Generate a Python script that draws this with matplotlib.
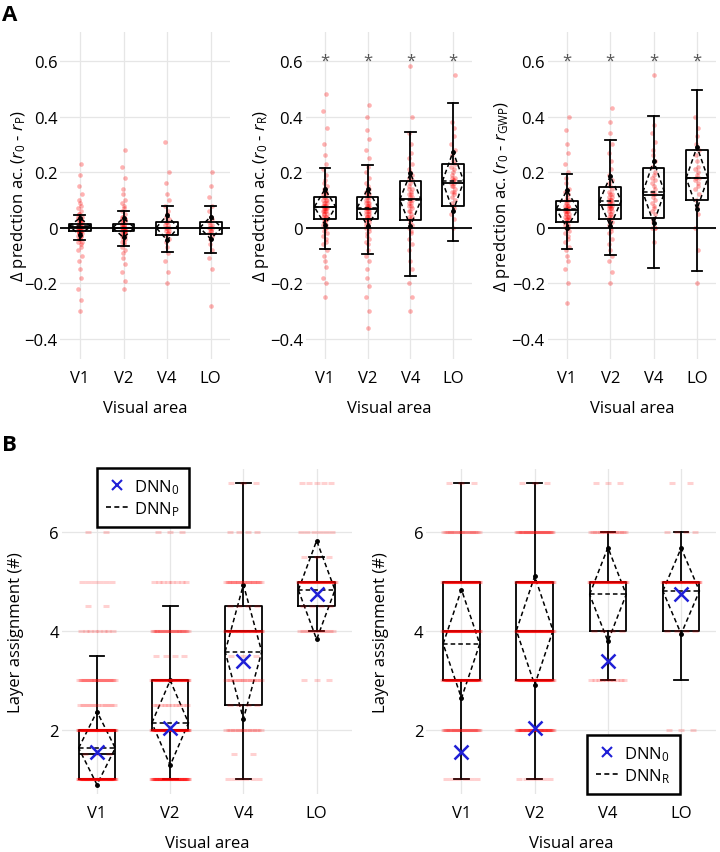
import matplotlib
matplotlib.use("Agg")
import matplotlib.pyplot as plt
import numpy as np
from matplotlib.lines import Line2D

plt.rcParams["font.family"] = ["Open Sans", "DejaVu Sans"]
plt.rcParams["mathtext.fontset"] = "custom"
plt.rcParams["mathtext.rm"] = "Open Sans"
plt.rcParams["mathtext.it"] = "Open Sans:italic"

areas = ["V1", "V2", "V4", "LO"]

# ---- Panel A: difference in prediction accuracy ----
a_ylabels = [r"$\Delta$ predction ac. ($r_0$ - $r_\mathrm{P}$)",
             r"$\Delta$ predction ac. ($r_0$ - $r_\mathrm{R}$)",
             r"$\Delta$ predction ac. ($r_0$ - $r_\mathrm{GWP}$)"]
a_signif = [False, True, True]

# box stats per panel: [V1, V2, V4, LO]
a_med = [[0.003, 0.0, 0.0, 0.0], [0.073, 0.067, 0.103, 0.161], [0.064, 0.082, 0.119, 0.179]]
a_q1 = [[-0.012, -0.012, -0.025, -0.022], [0.033, 0.033, 0.028, 0.079], [0.022, 0.033, 0.034, 0.100]]
a_q3 = [[0.015, 0.015, 0.020, 0.020], [0.109, 0.109, 0.167, 0.229], [0.095, 0.148, 0.215, 0.279]]
a_wlo = [[-0.043, -0.065, -0.088, -0.090], [-0.075, -0.093, -0.173, -0.046], [-0.076, -0.097, -0.143, -0.154]]
a_whi = [[0.045, 0.060, 0.080, 0.080], [0.215, 0.227, 0.343, 0.448], [0.194, 0.316, 0.402, 0.494]]
a_mean = [[0.005, 0.0, 0.0, 0.0], [0.075, 0.072, 0.101, 0.167], [0.067, 0.096, 0.128, 0.179]]
a_std = [[0.030, 0.035, 0.045, 0.040], [0.064, 0.067, 0.095, 0.107], [0.067, 0.090, 0.112, 0.112]]

# voxel values (estimated)
a_points = [
    [
        [-0.30, -0.26, -0.22, -0.18, -0.15, -0.12, -0.10, -0.08, -0.07, -0.06, -0.05, -0.05, -0.04,
         -0.04, -0.03, -0.03, -0.03, -0.02, -0.02, -0.02, -0.02, -0.01, -0.01, -0.01, -0.01, -0.01,
         0.0, 0.0, 0.0, 0.0, 0.0, 0.0, 0.01, 0.01, 0.01, 0.01, 0.01, 0.02, 0.02, 0.02, 0.02, 0.03,
         0.03, 0.03, 0.04, 0.04, 0.05, 0.05, 0.06, 0.07, 0.08, 0.09, 0.10, 0.12, 0.15, 0.19, 0.23],
        [-0.22, -0.19, -0.16, -0.13, -0.11, -0.09, -0.08, -0.07, -0.06, -0.05, -0.05, -0.04, -0.04,
         -0.03, -0.03, -0.03, -0.02, -0.02, -0.02, -0.01, -0.01, -0.01, -0.01, 0.0, 0.0, 0.0, 0.0,
         0.0, 0.01, 0.01, 0.01, 0.01, 0.02, 0.02, 0.02, 0.03, 0.03, 0.03, 0.04, 0.04, 0.05, 0.06,
         0.07, 0.08, 0.09, 0.10, 0.12, 0.14, 0.18, 0.22, 0.28],
        [-0.20, -0.16, -0.12, -0.09, -0.07, -0.05, -0.04, -0.03, -0.02, -0.02, -0.01, -0.01, 0.0,
         0.0, 0.0, 0.01, 0.01, 0.02, 0.02, 0.03, 0.04, 0.05, 0.06, 0.08, 0.10, 0.12, 0.16, 0.20,
         0.31],
        [-0.28, -0.15, -0.11, -0.08, -0.06, -0.04, -0.03, -0.02, -0.01, -0.01, 0.0, 0.0, 0.0, 0.01,
         0.01, 0.02, 0.03, 0.04, 0.06, 0.08, 0.11, 0.15, 0.20],
    ],
    [
        [-0.25, -0.20, -0.18, -0.14, -0.12, -0.10, -0.08, -0.06, -0.05, -0.04, -0.03, -0.02, -0.01,
         0.0, 0.0, 0.01, 0.01, 0.02, 0.02, 0.03, 0.03, 0.03, 0.04, 0.04, 0.04, 0.05, 0.05, 0.05,
         0.06, 0.06, 0.06, 0.06, 0.07, 0.07, 0.07, 0.07, 0.08, 0.08, 0.08, 0.08, 0.09, 0.09, 0.09,
         0.10, 0.10, 0.10, 0.11, 0.11, 0.12, 0.12, 0.13, 0.13, 0.14, 0.15, 0.16, 0.17, 0.19, 0.21,
         0.23, 0.26, 0.30, 0.36, 0.42, 0.48],
        [-0.36, -0.30, -0.25, -0.21, -0.18, -0.15, -0.12, -0.10, -0.08, -0.06, -0.05, -0.04, -0.03,
         -0.02, -0.01, 0.0, 0.0, 0.01, 0.01, 0.02, 0.02, 0.03, 0.03, 0.03, 0.04, 0.04, 0.04, 0.05,
         0.05, 0.05, 0.06, 0.06, 0.06, 0.07, 0.07, 0.07, 0.07, 0.08, 0.08, 0.08, 0.09, 0.09, 0.09,
         0.10, 0.10, 0.11, 0.11, 0.12, 0.12, 0.13, 0.14, 0.15, 0.16, 0.18, 0.20, 0.22, 0.25, 0.28,
         0.32, 0.35, 0.40, 0.44],
        [-0.30, -0.25, -0.20, -0.15, -0.12, -0.08, -0.06, -0.04, -0.02, -0.01, 0.0, 0.01, 0.02,
         0.03, 0.04, 0.04, 0.05, 0.06, 0.06, 0.07, 0.08, 0.08, 0.09, 0.09, 0.10, 0.10, 0.11, 0.11,
         0.12, 0.12, 0.13, 0.14, 0.14, 0.15, 0.16, 0.17, 0.18, 0.19, 0.20, 0.21, 0.23, 0.25, 0.27,
         0.30, 0.34, 0.40, 0.58],
        [0.0, 0.03, 0.05, 0.07, 0.08, 0.09, 0.10, 0.11, 0.12, 0.13, 0.13, 0.14, 0.15, 0.15, 0.16,
         0.16, 0.17, 0.17, 0.18, 0.18, 0.19, 0.20, 0.21, 0.22, 0.23, 0.24, 0.26, 0.28, 0.30, 0.33,
         0.36, 0.38, 0.55],
    ],
    [
        [-0.27, -0.20, -0.15, -0.12, -0.10, -0.08, -0.07, -0.05, -0.04, -0.03, -0.02, -0.01, 0.0,
         0.0, 0.0, 0.01, 0.01, 0.02, 0.02, 0.03, 0.03, 0.03, 0.04, 0.04, 0.04, 0.05, 0.05, 0.05,
         0.06, 0.06, 0.06, 0.06, 0.07, 0.07, 0.07, 0.08, 0.08, 0.08, 0.09, 0.09, 0.10, 0.10, 0.11,
         0.12, 0.13, 0.14, 0.16, 0.18, 0.20, 0.23, 0.27, 0.30, 0.35, 0.40],
        [-0.20, -0.16, -0.12, -0.10, -0.08, -0.06, -0.04, -0.02, -0.01, 0.0, 0.01, 0.02, 0.03, 0.03,
         0.04, 0.04, 0.05, 0.05, 0.06, 0.06, 0.07, 0.07, 0.07, 0.08, 0.08, 0.08, 0.09, 0.09, 0.09,
         0.10, 0.10, 0.10, 0.11, 0.11, 0.12, 0.12, 0.13, 0.14, 0.15, 0.16, 0.17, 0.19, 0.21, 0.24,
         0.27, 0.30, 0.34, 0.38, 0.43],
        [-0.05, 0.0, 0.0, 0.0, 0.02, 0.03, 0.05, 0.06, 0.07, 0.08, 0.09, 0.10, 0.11, 0.12, 0.12,
         0.13, 0.14, 0.15, 0.16, 0.17, 0.18, 0.19, 0.20, 0.22, 0.24, 0.26, 0.28, 0.31, 0.34, 0.37,
         0.55],
        [-0.20, -0.08, 0.0, 0.05, 0.08, 0.10, 0.12, 0.14, 0.15, 0.16, 0.17, 0.18, 0.18, 0.19, 0.20,
         0.21, 0.22, 0.24, 0.26, 0.28, 0.30, 0.33, 0.36, 0.40],
    ],
]

# ---- Panel B: layer assignment ----
b_leg_labels = [r"DNN$_\mathrm{P}$", r"DNN$_\mathrm{R}$"]
dnn0_mean = [1.56, 2.03, 3.39, 4.74]

b_med = [[1.5, 2.0, 4.0, 5.0], [4.0, 4.0, 5.0, 5.0]]
b_q1 = [[1.0, 2.0, 2.5, 4.5], [3.0, 3.0, 4.0, 4.0]]
b_q3 = [[2.0, 3.0, 4.5, 5.0], [5.0, 5.0, 5.0, 5.0]]
b_wlo = [[1.0, 1.0, 1.0, 4.0], [1.0, 1.0, 3.0, 3.0]]
b_whi = [[3.5, 4.5, 7.0, 5.5], [7.0, 7.0, 6.0, 6.0]]
b_mean = [[1.63, 2.14, 3.58, 4.83], [3.74, 4.01, 4.74, 4.81]]
b_std = [[0.74, 0.86, 1.36, 1.00], [1.10, 1.10, 0.95, 0.87]]

# layer levels and voxel counts (estimated)
b_levels = [
    [[1, 1.5, 2, 2.5, 3, 4, 4.5, 5, 6],
     [1, 2, 2.5, 3, 3.5, 4, 5, 6],
     [1, 1.5, 2, 2.5, 3, 3.5, 4, 4.5, 5, 6, 7],
     [3, 4, 4.5, 5, 5.5, 6, 7]],
    [[1, 2, 3, 4, 5, 6, 7],
     [1, 2, 3, 4, 5, 6, 7],
     [3, 4, 5, 6, 7],
     [2, 4, 5, 6, 7]],
]
b_counts = [
    [[70, 3, 70, 12, 25, 8, 2, 6, 2],
     [60, 70, 10, 50, 4, 25, 8, 3],
     [6, 2, 15, 4, 15, 3, 45, 4, 22, 4, 3],
     [3, 12, 4, 50, 3, 6, 5]],
    [[6, 30, 55, 55, 55, 20, 3],
     [6, 45, 55, 55, 55, 30, 3],
     [10, 4, 50, 15, 3],
     [3, 4, 50, 4, 2]],
]

fig = plt.figure(figsize=(7.2, 8.53), dpi=100)
W, H = 720.0, 853.0


def add_axes_px(left, top, width, height):
    return fig.add_axes([left / W, 1 - (top + height) / H, width / W, height / H])


def style_axes(ax):
    for s in ax.spines.values():
        s.set_visible(False)
    ax.tick_params(length=0, labelsize=12, pad=2)
    ax.tick_params(axis="x", pad=8)
    ax.grid(True, color="#e6e6e6", lw=0.9, zorder=0)
    ax.set_axisbelow(True)
    ax.set_xticks(range(1, 5))
    ax.set_xticklabels(areas)
    ax.set_xlabel("Visual area", fontsize=12)


def draw_boxes(ax, med, q1, q3, wlo, whi, mean, std, capw, lw):
    stats = [dict(med=med[i], q1=q1[i], q3=q3[i], whislo=wlo[i], whishi=whi[i], fliers=[])
             for i in range(4)]
    props = dict(color="black", lw=lw)
    ax.bxp(stats, positions=range(1, 5), widths=0.5, capwidths=capw, showfliers=False,
           boxprops=props, whiskerprops=props, capprops=props, medianprops=props,
           manage_ticks=False, zorder=3)
    for i in range(4):
        x = i + 1
        m, s = mean[i], std[i]
        ax.plot([x - 0.25, x, x + 0.25, x, x - 0.25], [m, m + s, m, m - s, m],
                ls=(0, (3, 2)), color="black", lw=1.1, zorder=4)
        ax.plot([x - 0.25, x + 0.25], [m, m], ls=(0, (3, 2)), color="black", lw=1.1, zorder=4)
        ax.plot([x, x], [m + s, m - s], ls="none", marker="o", ms=2.5, color="black", zorder=4)


# Panel A axes
a_lefts = [60.3, 305.8, 547.5]
a_widths = [170.0, 166.5, 169.0]
a_label_right = [29.0, 271.0, 512.0]
for k in range(3):
    ax = add_axes_px(a_lefts[k], 33, a_widths[k], 327)
    style_axes(ax)
    for i in range(4):
        vals = np.array(a_points[k][i])
        n = len(vals)
        offs = 0.04 * np.sin(np.arange(n) * 2.39996)
        ax.scatter(i + 1 + offs, vals, s=11, color="red", alpha=0.3, lw=0, zorder=2)
    ax.axhline(0, color="black", lw=1.3, zorder=2)
    draw_boxes(ax, a_med[k], a_q1[k], a_q3[k], a_wlo[k], a_whi[k], a_mean[k], a_std[k], 0.25, 1.3)
    if a_signif[k]:
        for i in range(4):
            ax.text(i + 1, 0.6, "*", ha="center", va="center", fontsize=12, color="#555555")
    ax.set_xlim(0.55, 4.45)
    ax.set_ylim(-0.472, 0.704)
    ax.set_yticks([-0.4, -0.2, 0, 0.2, 0.4, 0.6])
    ax.set_yticklabels(["\u22120.4", "\u22120.2", "0", "0.2", "0.4", "0.6"])
    ax.set_ylabel(a_ylabels[k], fontsize=12)
    ax.yaxis.set_label_coords((a_label_right[k] - a_lefts[k]) / a_widths[k], 0.5)
    ax.xaxis.set_label_coords(0.5, -0.125)

# Panel B axes
b_lefts = [61.8, 426.3]
b_label_right = [24.0, 389.0]
b_legend_anchor = [((0.121, 1.003), "upper left"), ((0.554, 0.0), "lower left")]
for k in range(2):
    ax = add_axes_px(b_lefts[k], 470, 290, 325)
    style_axes(ax)
    draw_boxes(ax, b_med[k], b_q1[k], b_q3[k], b_wlo[k], b_whi[k], b_mean[k], b_std[k], 0.2, 1.3)
    for i in range(4):
        xs, ys = [], []
        for lev, c in zip(b_levels[k][i], b_counts[k][i]):
            offs = (np.arange(c) + 0.5) / c * 0.5 - 0.25
            xs.extend(i + 1 + offs)
            ys.extend([lev] * c)
        ax.scatter(xs, ys, marker="_", s=14, linewidths=2.2, color="red", alpha=0.18, zorder=5)
    ax.plot(range(1, 5), dnn0_mean, ls="none", marker="x", ms=10, mew=1.8, color="#1f1fd6", zorder=6)
    ax.set_xlim(0.52, 4.48)
    ax.set_ylim(0.7, 7.28)
    ax.set_yticks([2, 4, 6])
    ax.set_ylabel("Layer assignment (#)", fontsize=12)
    ax.yaxis.set_label_coords((b_label_right[k] - b_lefts[k]) / 290, 0.5)
    ax.xaxis.set_label_coords(0.5, -0.125)
    handles = [Line2D([], [], ls="none", marker="x", ms=7, mew=1.5, color="#1f1fd6"),
               Line2D([], [], ls=(0, (3, 2)), color="black", lw=1.2)]
    anchor, loc = b_legend_anchor[k]
    leg = ax.legend(handles, [r"DNN$_0$", b_leg_labels[k]], loc=loc, bbox_to_anchor=anchor,
                    borderaxespad=0, fontsize=12, fancybox=False, framealpha=1,
                    handlelength=1.3, handletextpad=0.4, borderpad=0.55, labelspacing=0.2)
    leg.get_frame().set_edgecolor("black")
    leg.get_frame().set_linewidth(1.8)

fig.text(0.003, 1 - 5 / H, "A", fontsize=16, fontweight="bold", va="top", ha="left")
fig.text(0.003, 1 - 435 / H, "B", fontsize=16, fontweight="bold", va="top", ha="left")

fig.savefig("out.png", dpi=100)
plt.close(fig)
